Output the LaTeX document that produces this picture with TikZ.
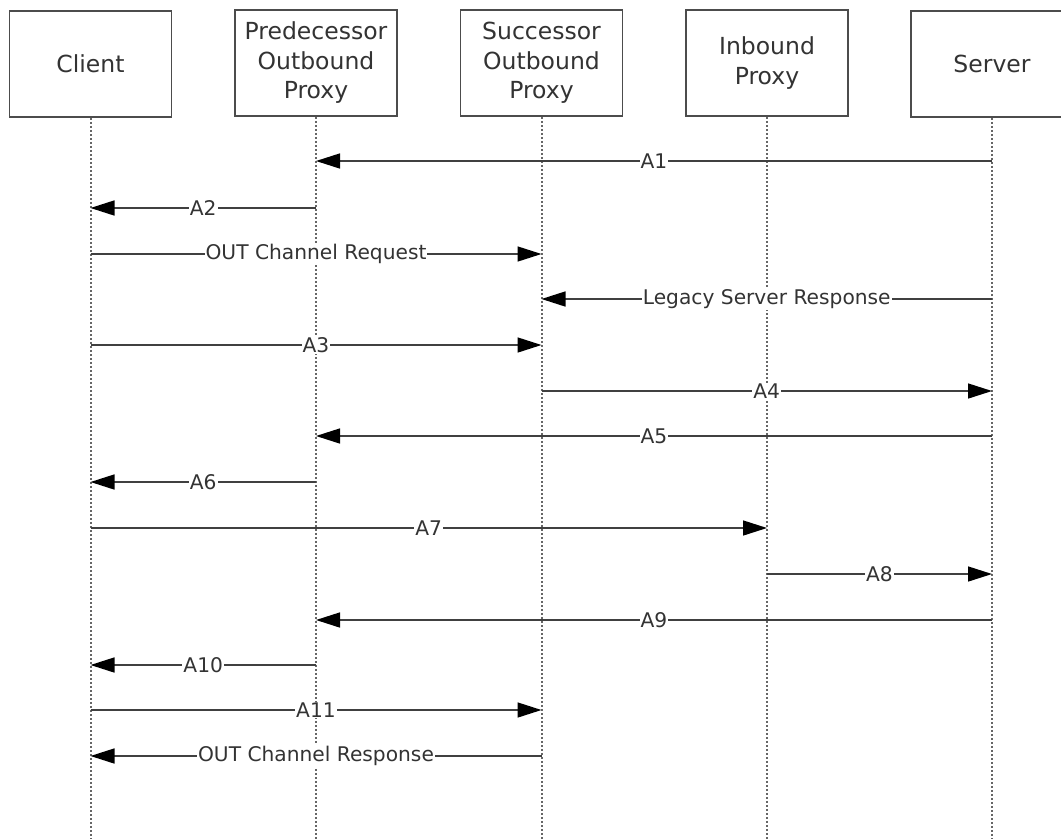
\documentclass[tikz,border=0pt]{standalone}
\usepackage{fontspec}
\setmainfont{DejaVu Sans}
\usetikzlibrary{arrows.meta}
\begin{document}
\begin{tikzpicture}[x=1pt,y=1pt,
  actor/.style={draw=black!70,line width=1.8pt,fill=white,minimum width=162pt,minimum height=106pt,
    align=center,font=\fontsize{23.5}{29.5}\selectfont,text=black!80,inner sep=0pt},
  life/.style={draw=black!60,line width=2pt,dash pattern=on 2pt off 2pt},
  msg/.style={draw=black!75,line width=1.5pt,-{Triangle[length=24pt,width=15pt,color=black]}},
  lbl/.style={fill=white,inner sep=1pt,font=\fontsize{20.2}{23}\selectfont,text=black!80}]
\useasboundingbox (0,0) rectangle (1061,-839);
\node[actor] (client) at (90.5,-64) {Client};
\node[actor] (pred) at (316,-63) {Predecessor\\Outbound\\Proxy};
\node[actor] (succ) at (541.5,-63) {Successor\\Outbound\\Proxy};
\node[actor] (inb) at (767,-63) {Inbound\\Proxy};
\node[actor] (server) at (992,-64) {Server};
\foreach \n in {client,pred,succ,inb,server}{
  \coordinate (\n End) at (\n.south |- 0,-839);
  \draw[life] (\n.south) -- (\n End);
}
\draw[msg] (server.south |- 0,-161) -- node[lbl]{A1} (pred.south |- 0,-161);
\draw[msg] (pred.south |- 0,-208) -- node[lbl]{A2} (client.south |- 0,-208);
\draw[msg] (client.south |- 0,-254) -- node[lbl]{OUT Channel Request} (succ.south |- 0,-254);
\draw[msg] (server.south |- 0,-299) -- node[lbl]{Legacy Server Response} (succ.south |- 0,-299);
\draw[msg] (client.south |- 0,-345) -- node[lbl]{A3} (succ.south |- 0,-345);
\draw[msg] (succ.south |- 0,-391) -- node[lbl]{A4} (server.south |- 0,-391);
\draw[msg] (server.south |- 0,-436) -- node[lbl]{A5} (pred.south |- 0,-436);
\draw[msg] (pred.south |- 0,-482) -- node[lbl]{A6} (client.south |- 0,-482);
\draw[msg] (client.south |- 0,-528) -- node[lbl]{A7} (inb.south |- 0,-528);
\draw[msg] (inb.south |- 0,-574) -- node[lbl]{A8} (server.south |- 0,-574);
\draw[msg] (server.south |- 0,-620) -- node[lbl]{A9} (pred.south |- 0,-620);
\draw[msg] (pred.south |- 0,-665) -- node[lbl]{A10} (client.south |- 0,-665);
\draw[msg] (client.south |- 0,-710) -- node[lbl]{A11} (succ.south |- 0,-710);
\draw[msg] (succ.south |- 0,-756) -- node[lbl]{OUT Channel Response} (client.south |- 0,-756);
\end{tikzpicture}
\end{document}
